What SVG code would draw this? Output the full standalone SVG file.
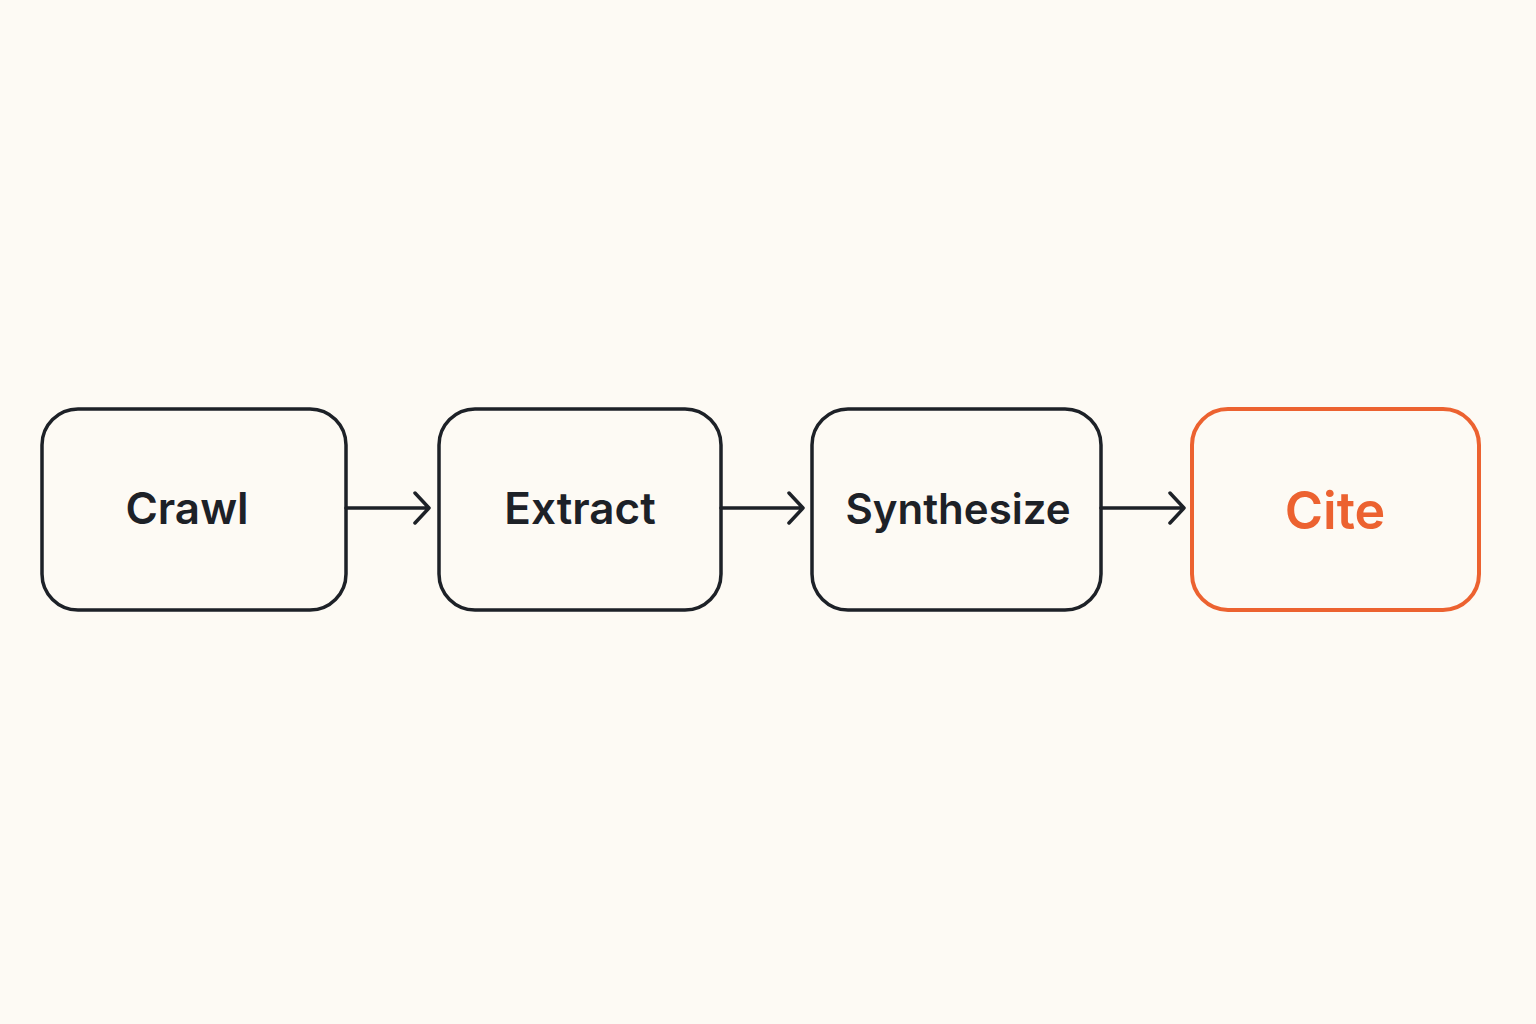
<svg xmlns="http://www.w3.org/2000/svg" width="1536" height="1024" viewBox="0 0 1536 1024">
<style>
.box{fill:none;stroke:#1d2127;stroke-width:3.5}
.hl{fill:none;stroke:#EC6230;stroke-width:4}
.lbl{font-family:Inter,"Noto Sans",sans-serif;font-weight:600;font-size:44px;fill:#1d2127;text-anchor:middle}
.conn{stroke:#1d2127;stroke-width:3.5;fill:none;stroke-linecap:round;stroke-linejoin:round}
</style>
<rect width="1536" height="1024" fill="#FDFAF4"/>
<g id="crawl"><rect class="box" x="42" y="409" width="304" height="201" rx="36"/><text class="lbl" x="187" y="524">Crawl</text></g>
<g id="extract"><rect class="box" x="439" y="409" width="282" height="201" rx="36"/><text class="lbl" x="580" y="524">Extract</text></g>
<g id="synthesize"><rect class="box" x="812" y="409" width="289" height="201" rx="36"/><text class="lbl" x="958" y="524" style="font-size:42px">Synthesize</text></g>
<g id="cite"><rect class="hl" x="1192" y="409" width="287" height="201" rx="36"/><text class="lbl" x="1335" y="529" style="fill:#EC6230;font-size:52px">Cite</text></g>
<g id="connectors">
<path class="conn" d="M346 508H429M415 493L429 508L415 523"/>
<path class="conn" d="M721 508H803M789 493L803 508L789 523"/>
<path class="conn" d="M1101 508H1184M1170 493L1184 508L1170 523"/>
</g>
</svg>
